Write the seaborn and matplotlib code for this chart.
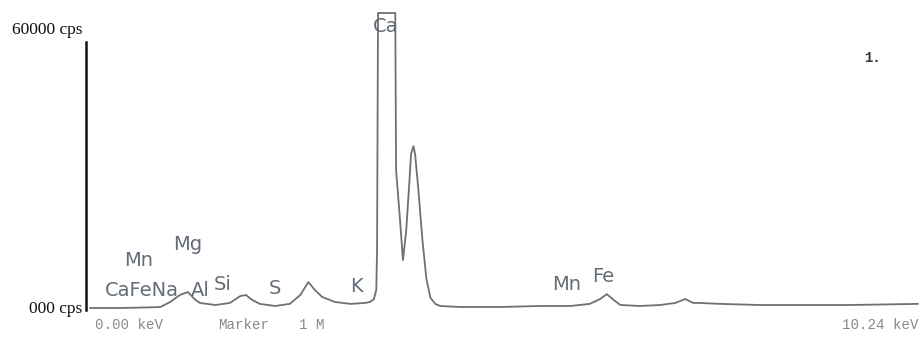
import matplotlib
matplotlib.use("Agg")
import matplotlib.pyplot as plt
import seaborn as sns
import pandas as pd

# EDS spectrum trace: energy (keV) and count rate (cps)
energy_kev = [0.00, 0.12, 0.37, 0.62, 0.87, 0.99, 1.11, 1.21, 1.30, 1.36,
              1.55, 1.73, 1.86, 1.93, 2.00, 2.10, 2.29, 2.47, 2.60, 2.70,
              2.78, 2.87, 3.03, 3.22, 3.40, 3.46, 3.51, 3.54, 3.55, 3.556,
              3.562, 3.775, 3.785, 3.83, 3.87, 3.91, 3.95, 3.97, 4.00,
              4.02, 4.06, 4.11, 4.16, 4.21, 4.27, 4.33, 4.58, 5.07, 5.57,
              5.94, 6.18, 6.31, 6.39, 6.48, 6.56, 6.80, 7.05, 7.24, 7.36,
              7.46, 7.54, 7.79, 8.29, 8.78, 9.40, 10.24]
counts_cps = [215, 215, 215, 300, 430, 1500, 3000, 3650, 2000, 1300,
              860, 1300, 2800, 3000, 2000, 1100, 650, 1100, 3000, 5800,
              4100, 2600, 1500, 1100, 1300, 1500, 2100, 4100, 12900, 40000,
              63640, 63640, 29900, 20000, 10500, 16800, 27500, 33300, 35000,
              33300, 25800, 15000, 6450, 2400, 1100, 650, 430, 430, 650,
              650, 1100, 2150, 3200, 1900, 860, 650, 860, 1300, 2150,
              1300, 1300, 1100, 860, 860, 860, 1100]

# Peak identification labels
element_labels = ["Mg", "Mn", "CaFeNa", "Al", "Si", "S", "K", "Mn", "Fe", "Ca"]
y_max_label = "60000 cps"
y_min_label = "000 cps"
x_start_label = "0.00 keV"
marker_label = "Marker"
marker_value = "1 M"
x_end_label = "10.24 keV"
spectrum_id = "1."

sns.set_theme(style="white")
plt.rcParams["font.family"] = ["DejaVu Sans"]

W, H = 922, 338
fig = plt.figure(figsize=(W / 100, H / 100), dpi=100)
fig.patch.set_facecolor("white")


def fx(px):
    return px / W


def fy(py):
    return 1 - py / H


ax = fig.add_axes([fx(86), fy(310), (918 - 86) / W, (310 - 12) / H])
df = pd.DataFrame({"energy": energy_kev, "cps": counts_cps})
sns.lineplot(data=df, x="energy", y="cps", ax=ax, estimator=None,
             color="#707070", linewidth=1.3, clip_on=False)
ax.set_xlim(-0.05, 10.24)
ax.set_ylim(-215, 63855)
ax.set_xlabel("")
ax.set_ylabel("")
ax.set_xticks([])
ax.set_yticks([])
for side in ["top", "right", "bottom"]:
    ax.spines[side].set_visible(False)
ax.spines["left"].set_visible(True)
ax.spines["left"].set_color("#111111")
ax.spines["left"].set_linewidth(1.8)
ax.spines["left"].set_bounds(-215, 57400)
ax.set_facecolor("none")

# y-axis range labels
fig.text(fx(82), fy(30), y_max_label, ha="right", va="center",
         family="Liberation Serif", fontsize=12.5, color="#111111")
fig.text(fx(82), fy(309), y_min_label, ha="right", va="center",
         family="Liberation Serif", fontsize=12.5, color="#111111")

# energy scale annotations
mono = dict(family="Liberation Mono", fontsize=10.2, color="#8a8a8a", va="center")
fig.text(fx(95), fy(325), x_start_label, ha="left", **mono)
fig.text(fx(218), fy(325), marker_label, ha="left", **mono)
fig.text(fx(299), fy(325), marker_value, ha="left", **mono)
fig.text(fx(918), fy(325), x_end_label, ha="right", **mono)

# element labels
label_pos = [(188, 244), (139, 260), (142, 290), (200, 290), (223, 285),
             (275, 288), (356, 287), (567, 285), (603, 276), (386, 27)]
lab_style = dict(family="DejaVu Sans", fontsize=14, color="#646c78",
                 ha="center", va="center")
for name, (px, py) in zip(element_labels, label_pos):
    fig.text(fx(px), fy(py), name, **lab_style)

fig.text(fx(872), fy(58), spectrum_id, ha="center", va="center",
         family="Liberation Mono", fontsize=10, fontweight="bold",
         color="#333333")

fig.savefig("out.png", dpi=100, facecolor="white")
